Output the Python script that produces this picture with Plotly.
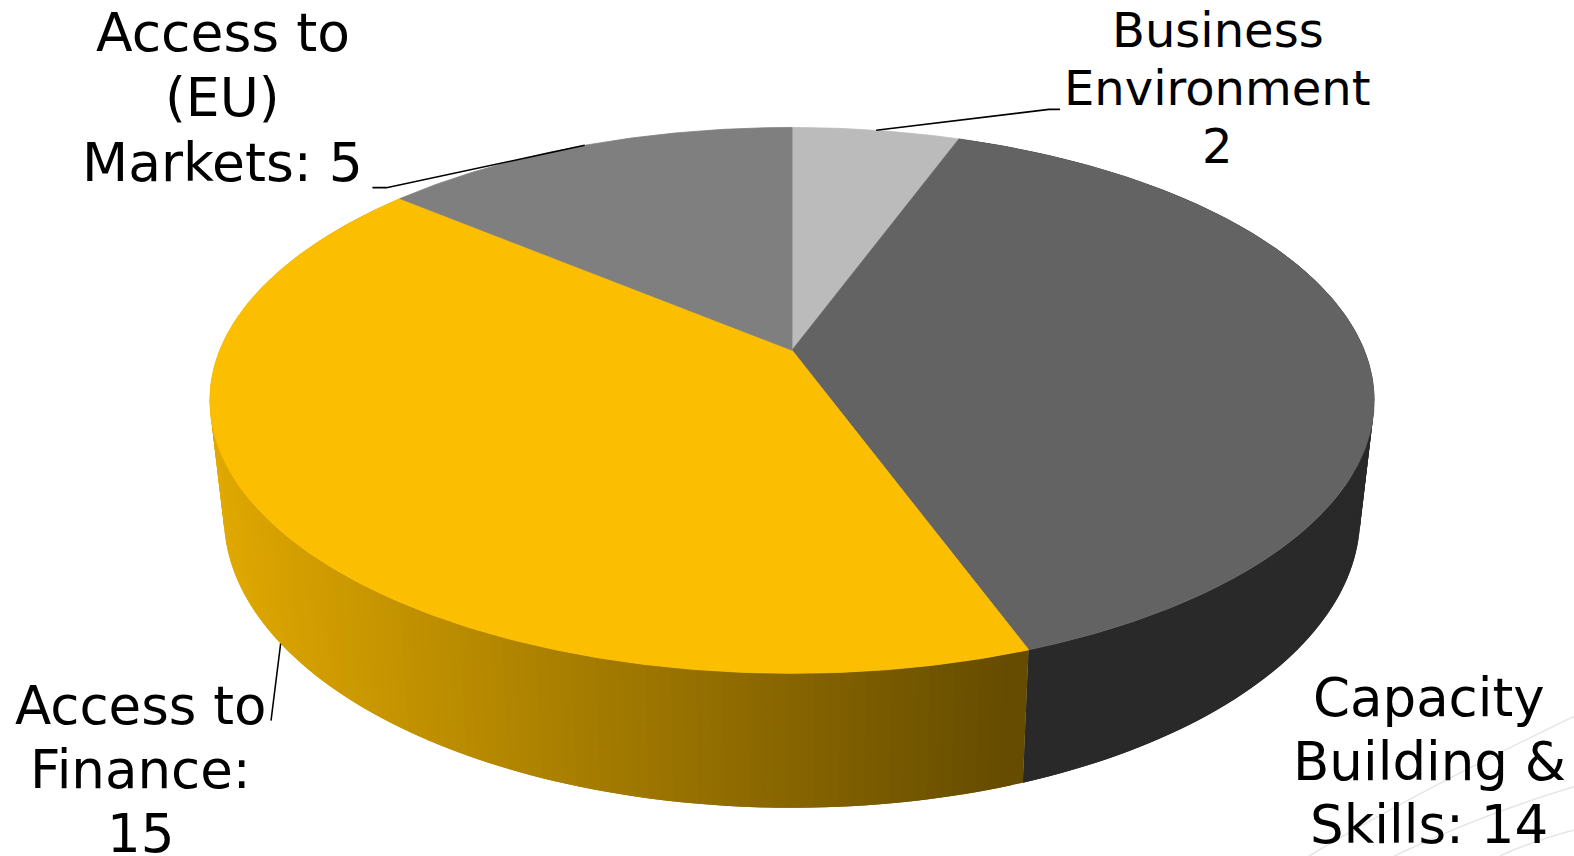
import math
import plotly.graph_objects as go

# Data
categories = ["Business Environment", "Capacity Building & Skills", "Access to Finance", "Access to (EU) Markets"]
values = [2, 14, 15, 5]
label_lines = [["Business", "Environment", "2"],
               ["Capacity", "Building &", "Skills: 14"],
               ["Access to", "Finance:", "15"],
               ["Access to", "(EU)", "Markets: 5"]]

# Style
top_colors = ["#BBBBBB", "#636363", "#FBBE00", "#7F7F7F"]
side_dark = "#292929"
grad_left, grad_right = (224, 168, 0), (100, 75, 0)
FONT = "DejaVu Sans"
label_style = [(1213, [30, 88, 145], 48), (1424, [695, 759, 822], 53),
               (140, [703, 767, 831], 53), (222, [32, 97, 162], 53.5)]

# Projection of the pie (perspective disc)
CX, CY, A, B, K = 789.0, 349.0, 570.1, 262.8, 0.1838
# outline ellipses of the upper and lower rim: centre y, half width, half height
TOP_E = (399.0, 580.0, 272.0)
BOT_E = (515.0, 566.0, 290.0)


def top_pt(theta):
    u, v = math.sin(theta), math.cos(theta)
    d = 1 + K * v
    return CX + A * u / d, CY - B * v / d


def bot_pt(theta):
    x, y = top_pt(theta)
    nx, ny = (x - CX) / TOP_E[1], (y - TOP_E[0]) / TOP_E[2]
    return CX + BOT_E[1] * nx, BOT_E[0] + BOT_E[2] * ny


total = sum(values)
edges = [0.0]
for val in values:
    edges.append(edges[-1] + val / total * 2 * math.pi)

fig = go.Figure()


def poly(xs, ys, color, lw=0.8):
    fig.add_trace(go.Scatter(x=xs, y=ys, mode="lines", fill="toself", fillcolor=color,
                             line=dict(color=color, width=lw), hoverinfo="skip", showlegend=False))


def arc(a, b, n, f):
    return [f(a + (b - a) * i / n) for i in range(n + 1)]


def wall_strip(a, b, color):
    up = arc(a, b, 3, top_pt)
    lo = arc(b, a, 3, bot_pt)
    q = up + lo
    poly([p[0] for p in q], [p[1] for p in q], color, 0)


# Sides: dark capacity wall
t0, t1 = edges[1], edges[2]
N = 120
step = (t1 - t0) / N
for i in range(N):
    wall_strip(t0 + i * step, min(t1, t0 + (i + 2) * step), side_dark)

# Sides: finance wall with gradient, from the near end towards the left edge
t0, t1 = edges[2], edges[3]
N = 140
step = (t1 - t0) / N
x_r, x_l = bot_pt(t0)[0], bot_pt(math.radians(268))[0]
for i in reversed(range(N)):
    a, b = t0 + i * step, min(t1, t0 + (i + 2) * step)
    f = min(1, max(0, (bot_pt(a + step / 2)[0] - x_l) / (x_r - x_l)))
    col = "rgb(%d,%d,%d)" % tuple(round(grad_left[j] + (grad_right[j] - grad_left[j]) * f) for j in range(3))
    wall_strip(a, b, col)

# Top slices
for i, cat in enumerate(categories):
    n = max(20, int(values[i] * 20))
    pts = [(CX, CY)] + arc(edges[i], edges[i + 1], n, top_pt) + [(CX, CY)]
    poly([p[0] for p in pts], [p[1] for p in pts], top_colors[i])

# Leader lines from slice midpoints
mid = [(edges[i] + edges[i + 1]) / 2 for i in range(4)]
leaders = [
    [top_pt(mid[0]), (1045, 109), (1056, 109)],
    [top_pt(mid[3]), (385, 187), (371, 187)],
    [bot_pt(mid[2]), (270, 718)],
]
for pts in leaders:
    fig.add_trace(go.Scatter(x=[p[0] for p in pts], y=[p[1] for p in pts], mode="lines",
                             line=dict(color="#000000", width=1.6), hoverinfo="skip", showlegend=False))

# Labels
for lines, (x, ys, size) in zip(label_lines, label_style):
    for line, y in zip(lines, ys):
        fig.add_annotation(x=x, y=y, xref="x", yref="y", text=line, showarrow=False, xanchor="center",
                           yanchor="middle", align="center", font=dict(family=FONT, size=size, color="#000000"))

# Faint background swooshes
shapes = []
for path in ["M 1304 853 Q 1415 787 1568 714", "M 1389 853 Q 1474 812 1568 784", "M 1494 853 Q 1524 839 1568 827"]:
    shapes.append(dict(type="path", path=path, xref="x", yref="y", line=dict(color="#E6E6E6", width=1.5), layer="below"))

fig.update_layout(
    width=1574, height=856, margin=dict(l=0, r=0, t=0, b=0),
    paper_bgcolor="#FFFFFF", plot_bgcolor="#FFFFFF", showlegend=False, shapes=shapes,
    xaxis=dict(range=[0, 1568], visible=False, fixedrange=True),
    yaxis=dict(range=[853, 0], visible=False, fixedrange=True),
)
fig.write_html("out.html", config={"displayModeBar": False},
               post_script="document.body.style.margin='0';document.documentElement.style.overflow='hidden';")
